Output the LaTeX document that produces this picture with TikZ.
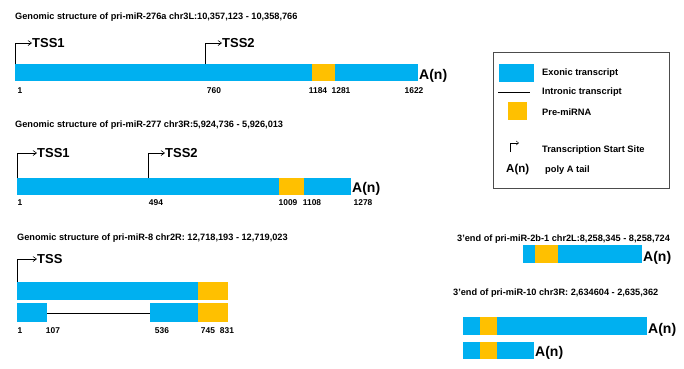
\documentclass[tikz,border=0pt]{standalone}
\usepackage{fontspec}
\setmainfont{Liberation Sans}
\usetikzlibrary{arrows.meta,positioning}

\definecolor{exonblue}{HTML}{00B0F0}
\definecolor{mirorange}{HTML}{FFC000}

\begin{document}
\begin{tikzpicture}[
    x=1pt, y=-1pt,
    >={Straight Barb[length=3.5pt,width=5pt]},
    exon/.style={fill=exonblue, draw=none, inner sep=0pt, anchor=north west},
    premir/.style={fill=mirorange, draw=none, inner sep=0pt, anchor=north west},
    head/.style={font=\fontsize{9.2}{11}\selectfont\bfseries, anchor=west, inner sep=0pt},
    poslab/.style={font=\fontsize{8.4}{10}\selectfont\bfseries, inner sep=0pt},
    tsslab/.style={font=\fontsize{13}{15}\selectfont\bfseries, anchor=west, inner sep=0pt},
    polya/.style={font=\fontsize{14}{16}\selectfont\bfseries, anchor=west, inner sep=0pt},
    tss/.style={->, semithick},
    legtext/.style={font=\fontsize{9.3}{11}\selectfont\bfseries, anchor=west, inner sep=0pt},
]
\useasboundingbox (0,0) rectangle (684,368);

% pri-miR-276a
\node[head] (h276) at (15,17) {Genomic structure of pri-miR-276a chr3L:10,357,123 - 10,358,766};
\node[exon, minimum width=403pt, minimum height=17pt] (bar276) at (15,64) {};
\node[premir, minimum width=23pt, minimum height=17pt] (mir276) at (312,64) {};
\node[tsslab] (tssa1) at (32,43) {TSS1};
\node[tsslab] (tssa2) at (222,43) {TSS2};
\coordinate (sa2) at (205,64);
\draw[tss] (bar276.north west) |- (tssa1.west);
\draw[tss] (sa2) |- (tssa2.west);
\node[polya] (pa276) at (419,76) {A(n)};
\node[poslab] (pa1) at (20,91) {1};
\node[poslab] (pa2) at (214,91) {760};
\node[poslab] (pa3) at (318,91) {1184};
\node[poslab] (pa4) at (341,91) {1281};
\node[poslab] (pa5) at (414,91) {1622};

% pri-miR-277
\node[head] (h277) at (15,125) {Genomic structure of pri-miR-277 chr3R:5,924,736 - 5,926,013};
\node[exon, minimum width=334pt, minimum height=17pt] (bar277) at (17,178) {};
\node[premir, minimum width=25pt, minimum height=17pt] (mir277) at (279,178) {};
\node[tsslab] (tssb1) at (37,153) {TSS1};
\node[tsslab] (tssb2) at (165,153) {TSS2};
\coordinate (sb2) at (148,178);
\draw[tss] (bar277.north west) |- (tssb1.west);
\draw[tss] (sb2) |- (tssb2.west);
\node[polya] (pa277) at (352,189) {A(n)};
\node[poslab] (pb1) at (20,203) {1};
\node[poslab] (pb2) at (156,203) {494};
\node[poslab] (pb3) at (288,203) {1009};
\node[poslab] (pb4) at (312,203) {1108};
\node[poslab] (pb5) at (363,203) {1278};

% pri-miR-8
\node[head] (h8) at (17,238) {Genomic structure of pri-miR-8 chr2R: 12,718,193 - 12,719,023};
\node[exon, minimum width=181pt, minimum height=18pt] (bar8) at (17,282) {};
\node[premir, minimum width=30pt, minimum height=18pt] (mir8) at (198,282) {};
\node[tsslab] (tssc) at (37,259) {TSS};
\draw[tss] (bar8.north west) |- (tssc.west);
\node[exon, minimum width=30pt, minimum height=19pt] (ex8a) at (17,303) {};
\node[exon, minimum width=48pt, minimum height=19pt] (ex8b) at (150,303) {};
\node[premir, minimum width=30pt, minimum height=19pt] (mir8b) at (198,303) {};
\draw (ex8a.east) -- (ex8b.west);
\node[poslab] (pc1) at (20,331) {1};
\node[poslab] (pc2) at (53,331) {107};
\node[poslab] (pc3) at (162,331) {536};
\node[poslab] (pc4) at (208,331) {745};
\node[poslab] (pc5) at (227,331) {831};

% legend
\node[draw=black!70, semithick, minimum width=176pt, minimum height=136pt, anchor=north west, inner sep=0pt] (legend) at (493,52) {};
\node[exon, minimum width=35pt, minimum height=18pt] (lgexon) at (499,64) {};
\node[legtext] (lgt1) at (542,73) {Exonic transcript};
\coordinate (lgl1) at (498,92);
\coordinate (lgl2) at (530,92);
\draw (lgl1) -- (lgl2);
\node[legtext] (lgt2) at (542,92) {Intronic transcript};
\node[premir, minimum width=19pt, minimum height=18pt] (lgmir) at (508,102) {};
\node[legtext] (lgt3) at (542,112) {Pre-miRNA};
\coordinate (lgs1) at (510,152);
\coordinate (lgs2) at (519,143);
\draw[->, >={Straight Barb[length=2.5pt,width=4pt]}] (lgs1) |- (lgs2);
\node[legtext] (lgt4) at (542,150) {Transcription Start Site};
\node[legtext, font=\fontsize{11.5}{13}\selectfont\bfseries] (lgpa) at (506,170) {A(n)};
\node[legtext] (lgt5) at (545,170) {poly A tail};

% pri-miR-2b-1
\node[head] (h2b) at (457,239) {3'end of pri-miR-2b-1 chr2L:8,258,345 - 8,258,724};
\node[exon, minimum width=119pt, minimum height=18pt] (bar2b) at (523,245) {};
\node[premir, minimum width=23pt, minimum height=18pt] (mir2b) at (535,245) {};
\node[polya] (pa2b) at (643,258) {A(n)};

% pri-miR-10
\node[head] (h10) at (453,293) {3'end of pri-miR-10 chr3R: 2,634604 - 2,635,362};
\node[exon, minimum width=184pt, minimum height=18pt] (bar10a) at (463,317) {};
\node[premir, minimum width=17pt, minimum height=18pt] (mir10a) at (480,317) {};
\node[polya] (pa10a) at (648,330) {A(n)};
\node[exon, minimum width=71pt, minimum height=17pt] (bar10b) at (463,342) {};
\node[premir, minimum width=17pt, minimum height=17pt] (mir10b) at (480,342) {};
\node[polya] (pa10b) at (535,353) {A(n)};

\end{tikzpicture}
\end{document}
